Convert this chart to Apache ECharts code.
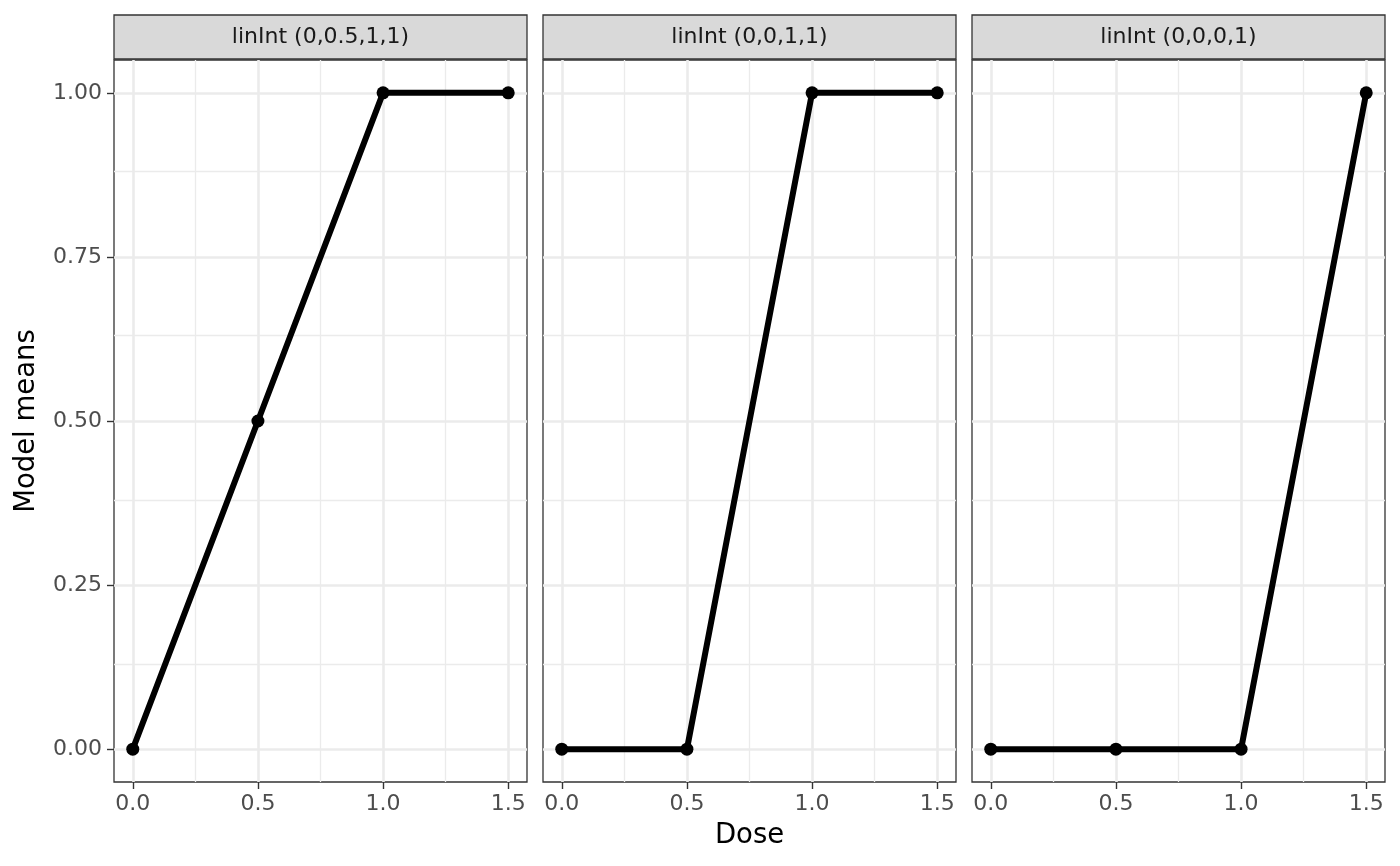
<!DOCTYPE html>
<html>
<head>
<meta charset="utf-8">
<title>linInt model means</title>
<script src="https://cdn.jsdelivr.net/npm/echarts@6/dist/echarts.min.js"></script>
<style>
  html, body { margin: 0; padding: 0; background: #fff; }
  #chart { width: 1400px; height: 866px; }
</style>
</head>
<body>
<div id="chart"></div>
<script>
// data
const doses = [0, 0.5, 1, 1.5];
const panelTitles = ["linInt (0,0.5,1,1)", "linInt (0,0,1,1)", "linInt (0,0,0,1)"];
const meansA = [0, 0.5, 1, 1];
const meansB = [0, 0, 1, 1];
const meansC = [0, 0, 0, 1];
const panelMeans = [meansA, meansB, meansC];
const xTicks = [0, 0.5, 1, 1.5];
const xMinor = [0.25, 0.75, 1.25];
const yTicks = [0, 0.25, 0.5, 0.75, 1];
const yMinor = [0.125, 0.375, 0.625, 0.875];

const FONT = "DejaVu Sans";
const panelLefts = [114, 543, 972];
const panelWidth = 413;
const plotTop = 60;
const plotBottom = 782;
const stripTop = 15;

const chart = echarts.init(document.getElementById("chart"), null, { renderer: "canvas" });

const grids = panelLefts.map(left => ({
  left: left,
  top: plotTop,
  width: panelWidth,
  height: plotBottom - plotTop,
  show: true,
  borderColor: "#333333",
  borderWidth: 1.3,
  backgroundColor: "#ffffff",
  containLabel: false
}));

const xAxes = panelLefts.map((_, i) => ({
  type: "value",
  gridIndex: i,
  min: -0.075,
  max: 1.575,
  axisLine: { show: false, onZero: false },
  axisTick: {
    show: true, length: 7, lineStyle: { color: "#333333", width: 1.4 },
    customValues: xTicks
  },
  axisLabel: {
    show: true, color: "#4D4D4D", fontFamily: FONT, fontSize: 22, margin: 11,
    customValues: xTicks,
    formatter: v => v.toFixed(1)
  },
  splitLine: { show: false }
}));

const yAxes = panelLefts.map((_, i) => ({
  type: "value",
  gridIndex: i,
  min: -0.05,
  max: 1.05,
  axisLine: { show: false, onZero: false },
  axisTick: {
    show: i === 0, length: 7, lineStyle: { color: "#333333", width: 1.4 },
    customValues: yTicks
  },
  axisLabel: {
    show: i === 0, color: "#4D4D4D", fontFamily: FONT, fontSize: 22, margin: 12,
    customValues: yTicks,
    formatter: v => v.toFixed(2)
  },
  splitLine: { show: false }
}));

function gridLines(i) {
  const major = { color: "#EBEBEB", width: 2.6, type: "solid" };
  const minor = { color: "#EBEBEB", width: 1.3, type: "solid" };
  const data = []
    .concat(xMinor.map(v => ({ xAxis: v, lineStyle: minor })))
    .concat(yMinor.map(v => ({ yAxis: v, lineStyle: minor })))
    .concat(xTicks.map(v => ({ xAxis: v, lineStyle: major })))
    .concat(yTicks.map(v => ({ yAxis: v, lineStyle: major })));
  return {
    type: "line",
    xAxisIndex: i,
    yAxisIndex: i,
    data: [],
    silent: true,
    z: 1,
    markLine: {
      silent: true,
      z: 1,
      symbol: ["none", "none"],
      label: { show: false },
      emphasis: { disabled: true },
      animation: false,
      data: data
    }
  };
}

const series = [];
panelMeans.forEach((means, i) => {
  series.push(gridLines(i));
  series.push({
    type: "line",
    xAxisIndex: i,
    yAxisIndex: i,
    data: doses.map((d, k) => [d, means[k]]),
    symbol: "circle",
    symbolSize: 13,
    showSymbol: true,
    lineStyle: { color: "#000000", width: 6 },
    itemStyle: { color: "#000000" },
    animation: false,
    z: 3
  });
});

const graphics = [];
panelLefts.forEach((left, i) => {
  graphics.push({
    type: "rect",
    shape: { x: left, y: stripTop, width: panelWidth, height: plotTop - stripTop - 1 },
    style: { fill: "#D9D9D9", stroke: "#333333", lineWidth: 1.3 },
    z: 10
  });
  graphics.push({
    type: "text",
    x: left + panelWidth / 2,
    y: (stripTop + plotTop - 1) / 2,
    style: {
      text: panelTitles[i], fill: "#1A1A1A", font: "22px '" + FONT + "'",
      align: "center", verticalAlign: "middle"
    },
    z: 11
  });
});
graphics.push({
  type: "text",
  x: (panelLefts[0] + panelLefts[2] + panelWidth) / 2,
  y: 836,
  style: { text: "Dose", fill: "#000000", font: "27.5px '" + FONT + "'", align: "center", verticalAlign: "middle" },
  z: 11
});
graphics.push({
  type: "text",
  x: 27,
  y: (plotTop + plotBottom) / 2,
  rotation: Math.PI / 2,
  style: { text: "Model means", fill: "#000000", font: "27.5px '" + FONT + "'", align: "center", verticalAlign: "middle" },
  z: 11
});

chart.setOption({
  animation: false,
  backgroundColor: "#ffffff",
  grid: grids,
  xAxis: xAxes,
  yAxis: yAxes,
  series: series,
  graphic: graphics
});
</script>
</body>
</html>
